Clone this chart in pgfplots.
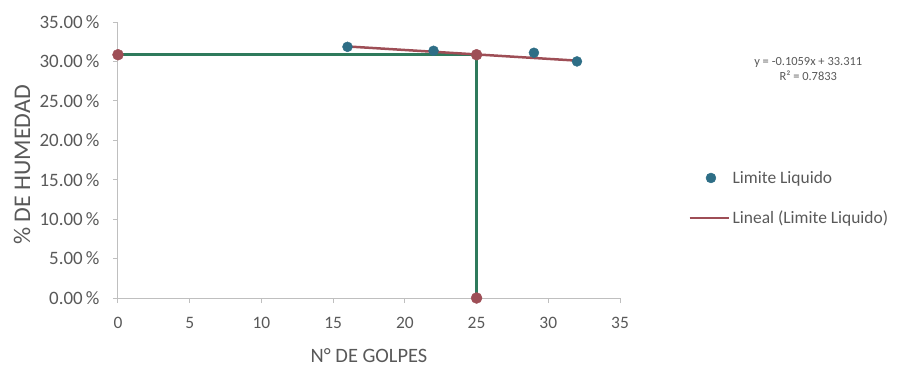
\documentclass[border=0pt]{standalone}
\usepackage{pgfplots}
\pgfplotsset{compat=1.18}
\usepackage{fontspec}
\setmainfont{Carlito}
\definecolor{txt}{HTML}{595959}
\definecolor{axc}{HTML}{BFBFBF}
\definecolor{blu}{HTML}{2E6E86}
\definecolor{redl}{HTML}{9E4E56}
\definecolor{grn}{HTML}{2F7A5C}
\pgfplotsset{longleg/.style={legend image code/.code={\draw[##1] (-0.45cm,0) -- (0.95cm,0);}}}
\begin{document}
\begin{tikzpicture}[x=1bp,y=1bp]
\useasboundingbox (-118bp,-72bp) rectangle (782bp,298bp);
\begin{axis}[
  at={(0,0)}, anchor=south west,
  scale only axis, width=502bp, height=276bp,
  xmin=0, xmax=35, ymin=0, ymax=35,
  axis x line=bottom, axis y line=left,
  axis line style={axc, line width=1bp, -},
  xtick={0,5,...,35}, ytick={0,5,...,35},
  tick style={axc, line width=1bp},
  tick align=outside, major tick length=5bp,
  font=\fontsize{17}{20}\selectfont,
  tick label style={txt, font=\fontsize{17.5}{20}\selectfont},
  xticklabel style={yshift=-11bp},
  yticklabel style={xshift=-10bp, font=\fontsize{19}{20}\selectfont},
  /pgf/number format/assume math mode=true,
  yticklabel={\pgfmathprintnumber[fixed,fixed zerofill,precision=2]{\tick}\,\%},
  xlabel={N° DE GOLPES}, ylabel={\% DE HUMEDAD},
  xlabel style={txt, font=\fontsize{20.5}{22}\selectfont, at={(axis description cs:0.5,0)}, anchor=center, yshift=-58bp},
  ylabel style={txt, font=\fontsize{24}{26}\selectfont, at={(axis description cs:0,0.5)}, anchor=center, yshift=96bp, xshift=-5bp},
  clip=false,
  legend style={at={(rel axis cs:1.13,0.362)}, anchor=west, draw=none, fill=none,
     font=\fontsize{17.5}{20}\selectfont, text=txt, row sep=22bp,
     legend cell align=left},
]
\addplot[grn, line width=2.5bp, forget plot] coordinates {(0,30.85) (25,30.85) (25,0)};
\addplot[only marks, mark=*, mark size=5bp, blu, mark options={draw=blu, fill=blu}] coordinates {(16,31.85) (22,31.35) (29,31.1) (32,30.0)};
\addlegendentry{Limite Liquido}
\addplot[redl, line width=2.5bp, longleg] coordinates {(16,31.9) (32,30.1)};
\addlegendentry{Lineal (Limite Liquido)}
\addplot[only marks, mark=*, mark size=5.5bp, redl, mark options={draw=redl, fill=redl}, forget plot] coordinates {(0,30.85) (25,30.85) (25,0)};
\node[txt, align=center, font=\fontsize{12.5}{15}\selectfont, anchor=north] at (rel axis cs:1.375,0.885) {y = -0.1059x + 33.311\\R² = 0.7833};
\end{axis}
\end{tikzpicture}
\end{document}
